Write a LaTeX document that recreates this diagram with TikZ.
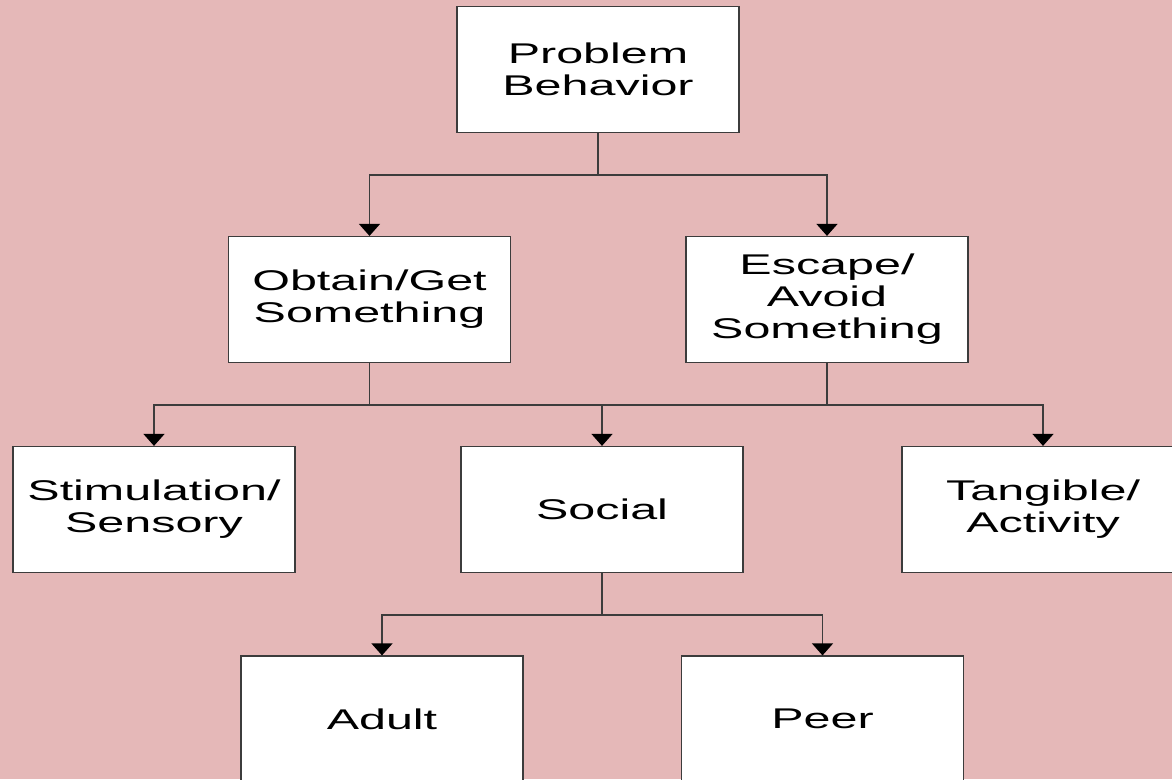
\documentclass[tikz,border=0pt]{standalone}
\usepackage{fontspec}
\setmainfont{Liberation Sans}[FakeStretch=1.7]
\usetikzlibrary{arrows.meta}

\definecolor{bgpink}{RGB}{229,184,184}
\definecolor{linegray}{RGB}{60,60,60}

\tikzset{
  funcbox/.style={draw=linegray,fill=white,line width=1.2pt,minimum width=282pt,
    minimum height=126pt,inner sep=0pt,align=center,font=\fontsize{28.5}{32}\selectfont},
  link/.style={draw=linegray,line width=1.3pt},
  arr/.style={link,-{Triangle[width=21pt,length=12pt,color=black]}}
}

\begin{document}
\begin{tikzpicture}[x=1pt,y=-1pt]
\fill[bgpink] (0,0) rectangle (1172,779);
\useasboundingbox (0,0) rectangle (1172,779);

% boxes
\node[funcbox] (pb) at (598,69.5)  {Problem\\Behavior};
\node[funcbox] (og) at (369.5,299.5) {Obtain/Get\\Something};
\node[funcbox] (ea) at (827,299.5) {Escape/\\Avoid\\Something};
\node[funcbox] (ss) at (154,509.5) {Stimulation/\\Sensory};
\node[funcbox] (so) at (602,509.5) {Social};
\node[funcbox] (ta) at (1043,509.5) {Tangible/\\Activity};
\node[funcbox] (ad) at (382,719) {Adult};
\node[funcbox] (pe) at (822.5,719) {Peer};

% connectors
\draw[link] (pb.south) -- ++(0,42) coordinate (j1);
\draw[arr] (j1) -| (og.north);
\draw[arr] (j1) -| (ea.north);

\draw[link] (og.south) -- ++(0,42) coordinate (j2);
\draw[link] (ea.south) -- ++(0,42) coordinate (j3);
\draw[link] (j2) -- (j3);
\draw[arr] (j2) -| (ss.north);
\draw[arr] (j3) -| (ta.north);
\draw[arr] (j2 -| so.north) -- (so.north);

\draw[link] (so.south) -- ++(0,42) coordinate (j4);
\draw[arr] (j4) -| (ad.north);
\draw[arr] (j4) -| (pe.north);
\end{tikzpicture}
\end{document}
